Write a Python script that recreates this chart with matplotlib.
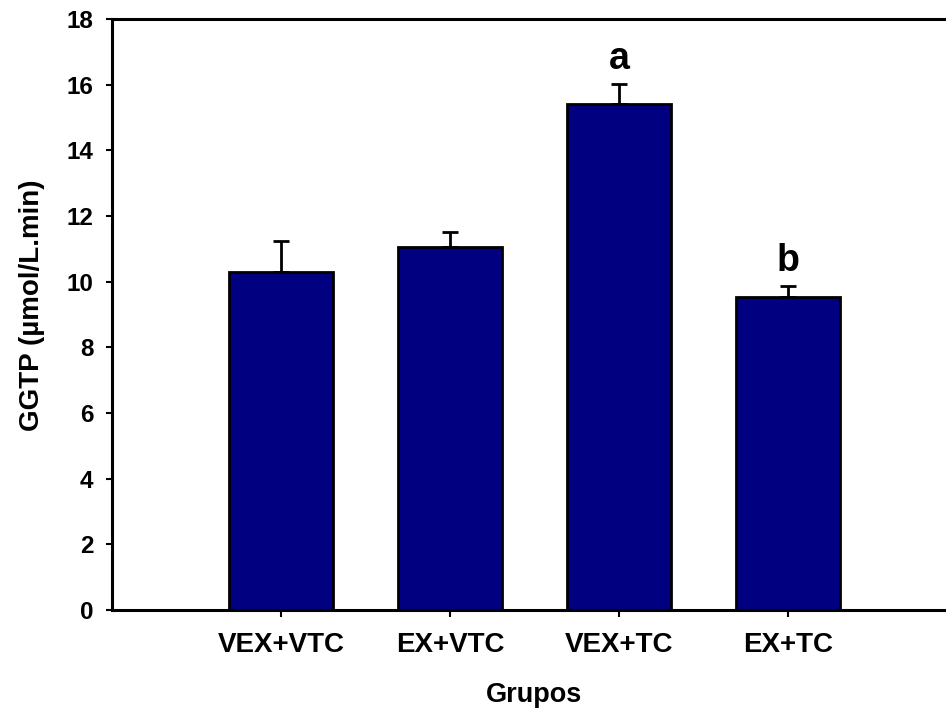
import matplotlib
matplotlib.use('Agg')
import matplotlib.pyplot as plt
import numpy as np

plt.rcParams['font.family'] = ['Liberation Sans', 'DejaVu Sans']
plt.rcParams['font.weight'] = 'bold'

# Data
groups = ['VEX+VTC', 'EX+VTC', 'VEX+TC', 'EX+TC']
ggtp = [10.28, 11.06, 15.40, 9.54]
ggtp_err = [0.96, 0.45, 0.62, 0.34]
letters = ['', '', 'a', 'b']

fig = plt.figure(figsize=(9.46, 7.15), dpi=100)
# axes reaches past the right edge as in the original
ax = fig.add_axes([0.1184, 0.1469, 0.8932, 0.8265])

x = np.arange(len(groups))
ax.bar(x, ggtp, width=0.61, color='#000080', edgecolor='black', linewidth=2, zorder=2)
ax.errorbar(x, ggtp, yerr=[np.zeros(len(ggtp)), ggtp_err], fmt='none',
            ecolor='black', elinewidth=2, capsize=6, capthick=2, zorder=1)

for xi, v, e, lab in zip(x, ggtp, ggtp_err, letters):
    if lab:
        ax.text(xi, v + e + 0.45, lab, ha='center', va='baseline', fontsize=27, fontweight='bold')

ax.set_xlim(-1, 4)
ax.set_ylim(0, 18)
ax.set_yticks(np.arange(0, 19, 2))
ax.set_xticks(x)
ax.set_xticklabels(groups)

for s in ax.spines.values():
    s.set_linewidth(2.2)

ax.tick_params(axis='y', direction='out', length=4.5, width=1.5, labelsize=17.5, pad=9)
ax.tick_params(axis='x', direction='out', length=5, width=1.5, labelsize=20, pad=11)

ax.set_xlabel('Grupos', fontsize=19.5, fontweight='bold')
ax.xaxis.set_label_coords(0.5, -0.1438)
ax.xaxis.label.set_va('center')
ax.set_ylabel('GGTP (\u00b5mol/L.min)', fontsize=20, fontweight='bold')
ax.yaxis.set_label_coords(-0.0947, 0.516)
ax.yaxis.label.set_va('center')

fig.savefig('out.png', dpi=100)
